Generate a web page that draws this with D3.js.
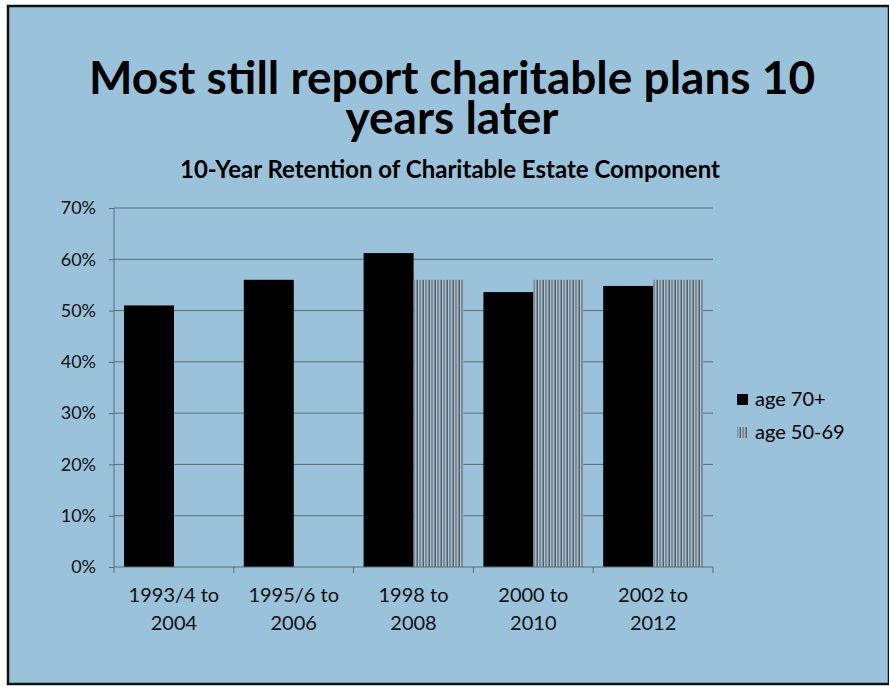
<!DOCTYPE html>
<html>
<head>
<meta charset="utf-8">
<script src="https://cdn.jsdelivr.net/npm/d3@7"></script>
<style>
  body { margin: 0; background: #fff; }
  svg { display: block; font-family: Lato, "Open Sans", sans-serif; }
</style>
</head>
<body>
<div id="chart"></div>
<script>
// chart data
var periods = [["1993/4 to", "2004"], ["1995/6 to", "2006"], ["1998 to", "2008"], ["2000 to", "2010"], ["2002 to", "2012"]];
var age70 = [0.51, 0.56, 0.612, 0.536, 0.548];
var age5069 = [null, null, 0.56, 0.56, 0.56];
var seriesNames = ["age 70+", "age 50-69"];
var yTicks = [0, 0.1, 0.2, 0.3, 0.4, 0.5, 0.6, 0.7];

var W = 889, H = 686;
var margin = { top: 208, left: 114, right: 176, bottom: 119 };
var width = W - margin.left - margin.right,
    height = H - margin.top - margin.bottom;

var svg = d3.select("#chart").append("svg")
    .attr("width", W)
    .attr("height", H);

// slide background + frame
svg.append("rect")
    .attr("x", 8).attr("y", 6)
    .attr("width", W - 8).attr("height", H - 8)
    .attr("fill", "#9ac2da")
    .attr("stroke", "#111")
    .attr("stroke-width", 2.5);

// stripe pattern for the age 50-69 bars
var defs = svg.append("defs");
var pat = defs.append("pattern")
    .attr("id", "stripes")
    .attr("patternUnits", "userSpaceOnUse")
    .attr("width", 6).attr("height", 4);
pat.append("rect").attr("width", 6).attr("height", 4).attr("fill", "#7d8c97");
pat.append("rect").attr("x", 1).attr("width", 1).attr("height", 4).attr("fill", "#9fbacb");
pat.append("rect").attr("x", 3).attr("width", 1).attr("height", 4).attr("fill", "#56626b");
pat.append("rect").attr("x", 4).attr("width", 1).attr("height", 4).attr("fill", "#a9c3d4");

// titles
var title = svg.append("text")
    .attr("text-anchor", "middle")
    .attr("font-weight", "bold")
    .attr("font-size", 46)
    .attr("fill", "#000");
title.append("tspan").attr("x", 452).attr("y", 94).text("Most still report charitable plans 10");
title.append("tspan").attr("x", 452).attr("y", 134).text("years later");

svg.append("text")
    .attr("x", 450).attr("y", 178)
    .attr("text-anchor", "middle")
    .attr("font-weight", "bold")
    .attr("font-size", 24)
    .text("10-Year Retention of Charitable Estate Component");

var g = svg.append("g")
    .attr("transform", "translate(" + margin.left + "," + margin.top + ")");

var x = d3.scaleBand()
    .domain(d3.range(periods.length))
    .range([0, width]);

var y = d3.scaleLinear()
    .domain([0, 0.7])
    .range([height, 0]);

// gridlines
g.selectAll(".grid")
    .data(yTicks.slice(1))
    .enter().append("line")
    .attr("class", "grid")
    .attr("x1", 0).attr("x2", width)
    .attr("y1", d => y(d)).attr("y2", d => y(d))
    .attr("stroke", "#5d6b74")
    .attr("stroke-width", 1);

// bars
var barW = 50, pad = 10;
g.selectAll(".bar70")
    .data(age70)
    .enter().append("rect")
    .attr("class", "bar70")
    .attr("x", (d, i) => x(i) + pad)
    .attr("y", d => y(d))
    .attr("width", barW)
    .attr("height", d => height - y(d))
    .attr("fill", "#000");

g.selectAll(".bar50")
    .data(age5069.map((v, i) => ({ v: v, i: i })).filter(d => d.v != null))
    .enter().append("rect")
    .attr("class", "bar50")
    .attr("x", d => x(d.i) + pad + barW)
    .attr("y", d => y(d.v))
    .attr("width", barW)
    .attr("height", d => height - y(d.v))
    .attr("fill", "url(#stripes)");

// y axis
var yAxis = d3.axisLeft(y)
    .tickValues(yTicks)
    .tickFormat(d3.format(".0%"))
    .tickSize(5)
    .tickPadding(13);
g.append("g")
    .attr("class", "y-axis")
    .call(yAxis)
    .call(a => a.select(".domain").attr("stroke", "#5d6b74").attr("d", "M0," + height + "V0"))
    .call(a => a.selectAll(".tick line").attr("stroke", "#5d6b74"))
    .call(a => a.selectAll("text").attr("font-size", 18).attr("fill", "#111")
        .attr("font-family", "Lato, 'Open Sans', sans-serif"));

// x axis baseline and boundary ticks
var xg = g.append("g").attr("transform", "translate(0," + height + ")");
xg.append("line")
    .attr("x1", 0).attr("x2", width)
    .attr("stroke", "#5d6b74");
xg.selectAll(".xt")
    .data(d3.range(periods.length + 1))
    .enter().append("line")
    .attr("x1", i => i < periods.length ? x(i) : width)
    .attr("x2", i => i < periods.length ? x(i) : width)
    .attr("y1", 0).attr("y2", 6)
    .attr("stroke", "#5d6b74");

var xl = xg.selectAll(".xl")
    .data(periods)
    .enter().append("text")
    .attr("class", "xl")
    .attr("text-anchor", "middle")
    .attr("font-size", 20)
    .attr("fill", "#111");
xl.append("tspan")
    .attr("x", (d, i) => x(i) + x.bandwidth() / 2)
    .attr("y", 35)
    .text(d => d[0]);
xl.append("tspan")
    .attr("x", (d, i) => x(i) + x.bandwidth() / 2)
    .attr("y", 63)
    .text(d => d[1]);

// legend
var legend = svg.append("g").attr("transform", "translate(737,394)");
var li = legend.selectAll(".li")
    .data(seriesNames)
    .enter().append("g")
    .attr("transform", (d, i) => "translate(0," + i * 33 + ")");
li.append("rect")
    .attr("width", 11).attr("height", 11)
    .attr("fill", (d, i) => i === 0 ? "#000" : "url(#stripes)");
li.append("text")
    .attr("x", 18).attr("y", 12)
    .attr("font-size", 20)
    .text(d => d);
</script>
</body>
</html>
